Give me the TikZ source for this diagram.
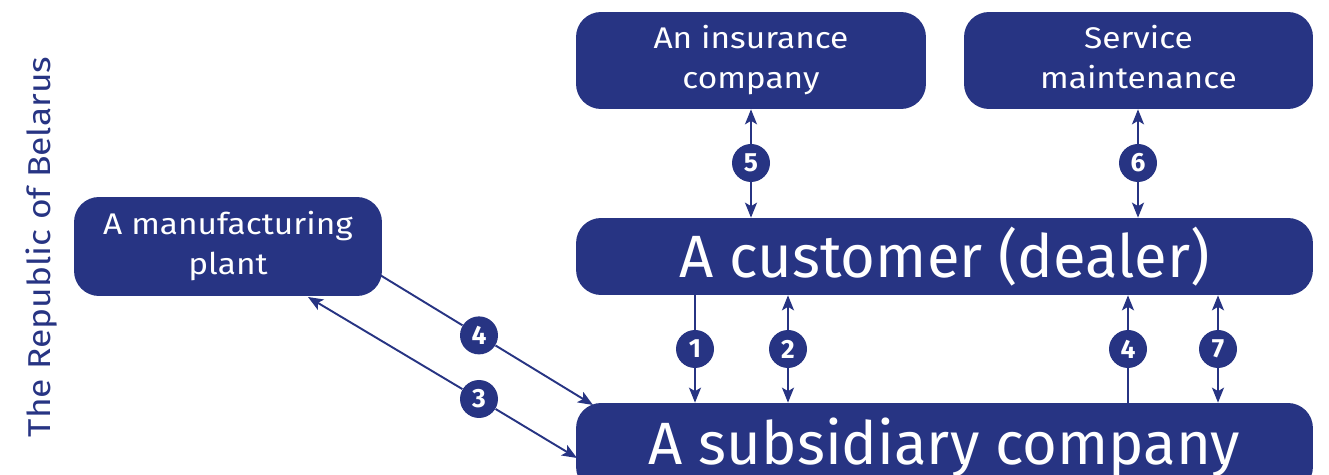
\documentclass[tikz,border=0pt]{standalone}
\usepackage{fontspec}
\setmainfont{Fira Sans}
\newfontfamily\widefont{Fira Sans}[FakeStretch=1.12]
\usetikzlibrary{arrows.meta}

\definecolor{darkblue}{RGB}{39,52,131}

\begin{document}
\begin{tikzpicture}[x=0.02cm,y=-0.02cm,
        box/.style={shape=rectangle,fill=darkblue,rounded corners=0.5cm,text=white,align=center,inner sep=0pt},
        small/.style={font=\widefont\fontsize{17}{23}\selectfont},
        large/.style={font=\fontsize{34}{34}\selectfont},
        num/.style={shape=circle,fill=darkblue,text=white,minimum size=0.76cm,inner sep=0pt,font=\fontsize{15}{15}\selectfont\bfseries},
        link/.style={draw=darkblue,line width=1.1pt},
        tip/.style={-{Stealth[length=0.3cm,width=0.24cm,inset=0.07cm]}}]
        \useasboundingbox (0,0) rectangle (1329,475);
        % boxes
        \node[box,small,minimum width=7cm,minimum height=1.94cm](ins) at (751,60.5) {\strut An insurance\\\strut company};
        \node[box,small,minimum width=6.98cm,minimum height=1.94cm](serv) at (1138.5,60.5) {\strut Service\\\strut maintenance};
        \node[box,large,minimum width=14.74cm,minimum height=1.54cm](cust) at (944.5,256.5) {A customer (dealer)};
        \node[box,large,minimum width=14.74cm,minimum height=1.78cm](sub) at (944.5,447.5) {A subsidiary company};
        \node[box,small,minimum width=6.16cm,minimum height=1.98cm](plant) at (228,246.5) {\strut A manufacturing\\\strut plant};
        \node[rotate=90,text=darkblue,font=\widefont\fontsize{18}{18}\selectfont](country) at (42,247) {The Republic of Belarus};
        % numbers
        \node[num](n5) at (751,163) {5};
        \node[num](n6) at (1138,163) {6};
        \node[num](n1) at (695,349) {1};
        \node[num](n2) at (788,349) {2};
        \node[num](n4) at (1128,349) {4};
        \node[num](n7) at (1218,349) {7};
        \node[num](m4) at (479,335.4) {4};
        \node[num](m3) at (479,399) {3};
        \coordinate (a4) at (380,275);
        \coordinate (b4) at (593,405);
        \coordinate (a3) at (308,297);
        \coordinate (b3) at (577,458);
        % arrows
        \draw[link,tip] (n5) -- (n5 |- ins.south);
        \draw[link,tip] (n5) -- (n5 |- cust.north);
        \draw[link,tip] (n6) -- (n6 |- serv.south);
        \draw[link,tip] (n6) -- (n6 |- cust.north);
        \draw[link] (n1 |- cust.south) -- (n1);
        \draw[link,tip] (n1) -- (n1 |- sub.north);
        \draw[link,tip] (n2) -- (n2 |- cust.south);
        \draw[link,tip] (n2) -- (n2 |- sub.north);
        \draw[link] (n4 |- sub.north) -- (n4);
        \draw[link,tip] (n4) -- (n4 |- cust.south);
        \draw[link,tip] (n7) -- (n7 |- cust.south);
        \draw[link,tip] (n7) -- (n7 |- sub.north);
        \draw[link] (a4) -- (m4);
        \draw[link,tip] (m4) -- (b4);
        \draw[link,tip] (m3) -- (a3);
        \draw[link,tip] (m3) -- (b3);
\end{tikzpicture}
\end{document}
